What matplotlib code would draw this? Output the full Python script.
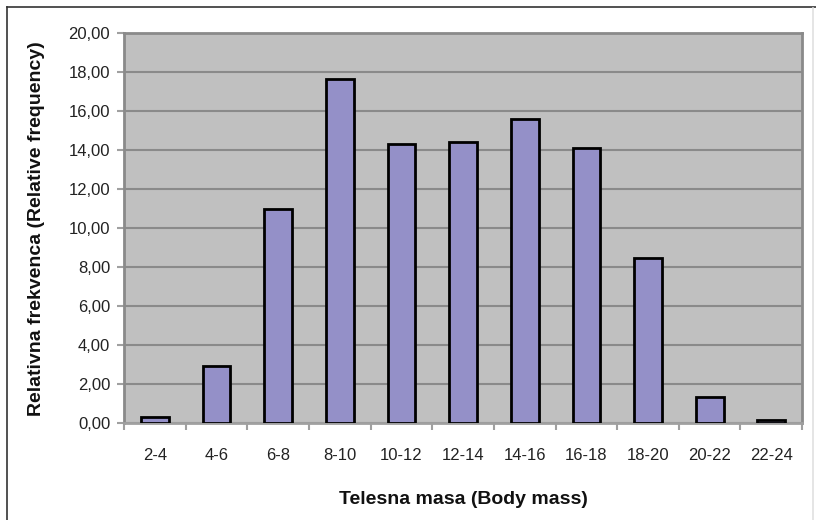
import matplotlib
matplotlib.use("Agg")
import matplotlib.pyplot as plt
from matplotlib.lines import Line2D
import numpy as np

plt.rcParams['font.family'] = ['Liberation Sans', 'DejaVu Sans']

# body mass classes and their relative frequency (%)
classes = ['2-4', '4-6', '6-8', '8-10', '10-12', '12-14',
           '14-16', '16-18', '18-20', '20-22', '22-24']
rel_freq = [0.35, 2.95, 11.0, 17.65, 14.3, 14.4, 15.6, 14.1, 8.45, 1.35, 0.17]
y_ticks = [0, 2, 4, 6, 8, 10, 12, 14, 16, 18, 20]

fig = plt.figure(figsize=(8.16, 5.2), dpi=100)
ax = fig.add_axes([0.152, 0.1856, 0.831, 0.751])
ax.set_facecolor('#c0c0c0')

x = np.arange(len(classes))
ax.bar(x, rel_freq, width=0.45, color='#9490c8', edgecolor='black',
       linewidth=2, zorder=3)

ax.set_xlim(-0.5, len(classes) - 0.5)
ax.set_ylim(0, 20)
ax.set_yticks(y_ticks)
ax.set_yticklabels([f'{v:.2f}'.replace('.', ',') for v in y_ticks])
ax.yaxis.grid(True, color='#8a8a8a', linewidth=1.5, zorder=1)

# category labels centred on bars, ticks between categories
ax.set_xticks(x)
ax.set_xticklabels(classes)
ax.tick_params(axis='x', length=0, pad=18, labelsize=12, labelcolor='#222222')
ax.set_xticks(np.arange(len(classes) + 1) - 0.5, minor=True)
ax.tick_params(axis='x', which='minor', length=5, color='#a0a0a0', width=1.5)
ax.tick_params(axis='y', length=5, color='#a0a0a0', width=1.5, labelsize=12,
               pad=5, labelcolor='#222222')

for s in ax.spines.values():
    s.set_color('#8a8a8a')
    s.set_linewidth(2)
ax.spines['bottom'].set_color('#a0a0a0')

ax.set_xlabel('Telesna masa (Body mass)', fontsize=14, fontweight='bold',
              labelpad=20, color='#111111')
ax.set_ylabel('Relativna frekvenca (Relative frequency)', fontsize=14,
              fontweight='bold', labelpad=17, color='#111111')

# outer chart frame (left/top visible, cropped at right/bottom)
fig.add_artist(Line2D([7 / 816, 7 / 816], [0, 1 - 7 / 520],
                      transform=fig.transFigure, color='#333333', lw=1.2))
fig.add_artist(Line2D([7 / 816, 1], [1 - 7 / 520, 1 - 7 / 520],
                      transform=fig.transFigure, color='#333333', lw=1.2))
fig.add_artist(Line2D([813 / 816, 813 / 816], [0, 1 - 8 / 520],
                      transform=fig.transFigure, color='#e0e0e0', lw=1.2))

fig.savefig('out.png', dpi=100)
